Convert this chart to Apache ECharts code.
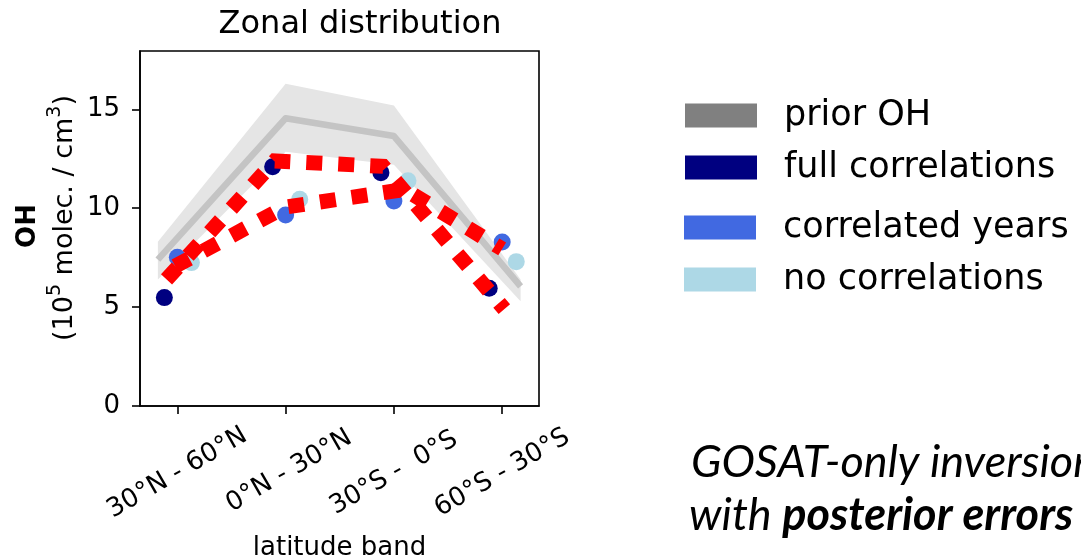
<!DOCTYPE html>
<html>
<head>
<meta charset="utf-8">
<script src="https://cdn.jsdelivr.net/npm/echarts@6/dist/echarts.min.js"></script>
<style>
  html, body { margin: 0; padding: 0; background: #fff; }
  #chart { width: 1081px; height: 560px; }
</style>
</head>
<body>
<div id="chart"></div>
<script>
// Latitude bands (x positions 0..3) and y tick values
const bands = ['30°N - 60°N', ' 0°N - 30°N', '30°S -  0°S', '60°S - 30°S'];
const bandPos = [0, 1, 2, 3];
const yTicks = [0, 5, 10, 15];

// Prior OH: central line and its spread
const priorX = [-0.18, 1, 2, 3.17];
const priorOH = [7.4, 14.55, 13.65, 6.05];
const priorLow = [6.4, 12.85, 12.2, 5.3];
const priorHigh = [8.3, 16.3, 15.2, 6.4];

// Posterior OH per band for the three error set-ups
const fullCorr = [5.48, 12.1, 11.8, 5.95];
const corrYears = [7.52, 9.66, 10.36, 8.29];
const noCorr = [7.25, 10.45, 11.39, 7.3];

// Posterior error envelope (red dotted)
const upperX = [-0.1, 0.9, 1.9, 3.02];
const upperY = [6.4, 12.39, 12.12, 4.9];
const lowerX = [-0.02, 0.99, 2.1, 3.0];
const lowerY = [7.07, 10.05, 10.95, 7.94];

const FONT = '"DejaVu Sans", sans-serif';
const pairs = (xs, ys) => xs.map((x, i) => [x, ys[i]]);
const shifted = (vals, dx) => vals.map((v, i) => [bandPos[i] + dx, v]);

const chart = echarts.init(document.getElementById('chart'), null, { renderer: 'canvas' });

const legendLayout = [
  { name: 'prior OH', color: '#808080', left: 685, top: 98, pad: [4, 0, 0, 22] },
  { name: 'full correlations', color: '#000080', left: 685, top: 150, pad: [0, 0, 2, 22] },
  { name: 'correlated years', color: '#4169e1', left: 684, top: 210, pad: [2, 0, 0, 22] },
  { name: 'no correlations', color: '#add8e6', left: 684, top: 262, pad: [2, 0, 0, 22] }
];

const option = {
  animation: false,
  backgroundColor: '#fff',
  grid: {
    left: 140, top: 51, width: 399, height: 355,
    show: true, borderColor: '#000', borderWidth: 1.6, backgroundColor: 'transparent'
  },
  legend: legendLayout.map(l => ({
    left: l.left, top: l.top, padding: 0, orient: 'vertical',
    itemWidth: 72, itemHeight: 24, selectedMode: false,
    data: [{ name: l.name, icon: 'rect', itemStyle: { color: l.color, borderWidth: 0 } }],
    textStyle: { fontFamily: FONT, fontSize: 35, color: '#000', padding: l.pad }
  })),
  xAxis: {
    type: 'value', min: -0.345, max: 3.34,
    splitLine: { show: false },
    axisLine: { show: true, onZero: false, lineStyle: { color: '#000', width: 1.6 } },
    axisTick: { show: true, customValues: bandPos, length: 8, lineStyle: { color: '#000', width: 1.6 } },
    axisLabel: {
      customValues: bandPos, formatter: v => bands[Math.round(v)],
      rotate: 30, align: 'center', verticalAlign: 'middle', margin: 67,
      fontFamily: FONT, fontSize: 26, color: '#000'
    }
  },
  yAxis: {
    type: 'value', min: 0, max: 17.95,
    splitLine: { show: false },
    axisLine: { show: true, onZero: false, lineStyle: { color: '#000', width: 1.6 } },
    axisTick: { show: true, customValues: yTicks, length: 8, lineStyle: { color: '#000', width: 1.6 } },
    axisLabel: { customValues: yTicks, margin: 20, fontFamily: FONT, fontSize: 26, color: '#000' }
  },
  series: [
    {
      type: 'custom', name: 'prior spread', silent: true, z: 1,
      data: priorX.map((x, i) => [x, priorLow[i], priorHigh[i]]),
      encode: { x: 0, y: [1, 2] },
      renderItem(params, api) {
        if (params.dataIndex !== 0) return null;
        const top = priorX.map((x, i) => api.coord([x, priorHigh[i]]));
        const bot = priorX.map((x, i) => api.coord([x, priorLow[i]])).reverse();
        return { type: 'polygon', shape: { points: top.concat(bot) }, style: { fill: '#e5e5e5' } };
      }
    },
    {
      type: 'line', name: 'prior OH', z: 2, symbol: 'none', silent: true,
      data: pairs(priorX, priorOH),
      itemStyle: { color: '#808080' },
      lineStyle: { color: '#c4c4c4', width: 6.5, join: 'round' }
    },
    {
      type: 'scatter', name: 'full correlations', z: 3, symbolSize: 17,
      data: shifted(fullCorr, -0.12), itemStyle: { color: '#000080', opacity: 1 }
    },
    {
      type: 'scatter', name: 'correlated years', z: 3, symbolSize: 17,
      data: shifted(corrYears, 0), itemStyle: { color: '#4169e1', opacity: 1 }
    },
    {
      type: 'scatter', name: 'no correlations', z: 3, symbolSize: 17,
      data: shifted(noCorr, 0.13), itemStyle: { color: '#add8e6', opacity: 1 }
    },
    {
      type: 'line', name: 'posterior upper', z: 4, symbol: 'none', silent: true,
      data: pairs(upperX, upperY),
      lineStyle: { color: '#ff0000', width: 15, type: [16, 16], cap: 'butt', join: 'miter' }
    },
    {
      type: 'line', name: 'posterior lower', z: 4, symbol: 'none', silent: true,
      data: pairs(lowerX, lowerY),
      lineStyle: { color: '#ff0000', width: 15, type: [16, 16], cap: 'butt', join: 'miter' }
    }
  ],
  graphic: [
    {
      type: 'text', x: 360, y: 25,
      style: { text: 'Zonal distribution', font: '32px ' + FONT, fill: '#000', textAlign: 'center', textVerticalAlign: 'middle' }
    },
    {
      type: 'text', x: 339.5, y: 548,
      style: { text: 'latitude band', font: '26px ' + FONT, fill: '#000', textAlign: 'center', textVerticalAlign: 'middle' }
    },
    {
      type: 'text', x: 28, y: 226, rotation: Math.PI / 2,
      style: { text: 'OH', font: 'bold 26px ' + FONT, fill: '#000', textAlign: 'center', textVerticalAlign: 'middle' }
    },
    {
      type: 'text', x: 62, y: 218, rotation: Math.PI / 2,
      style: {
        text: '{a|(10}{s|5}{a| molec. / cm}{s|3}{a|)}',
        textAlign: 'center', textVerticalAlign: 'middle', fill: '#000',
        rich: {
          a: { fontFamily: FONT, fontSize: 27, lineHeight: 32, fill: '#000', verticalAlign: 'bottom' },
          s: { fontFamily: FONT, fontSize: 19, lineHeight: 20, fill: '#000', verticalAlign: 'top' }
        }
      }
    },
    {
      type: 'text', x: 691, y: 462,
      style: { text: 'GOSAT-only inversion', font: 'italic 45px Lato', fill: '#000', textAlign: 'left', textVerticalAlign: 'middle' }
    },
    {
      type: 'text', x: 689, y: 515,
      style: {
        text: '{i|with }{b|posterior errors}',
        textAlign: 'left', textVerticalAlign: 'middle',
        rich: {
          i: { fontFamily: 'Lato', fontStyle: 'italic', fontSize: 45, fill: '#000' },
          b: { fontFamily: 'Lato', fontStyle: 'italic', fontWeight: 'bold', fontSize: 45, fill: '#000' }
        }
      }
    }
  ]
};

chart.setOption(option);
</script>
</body>
</html>
